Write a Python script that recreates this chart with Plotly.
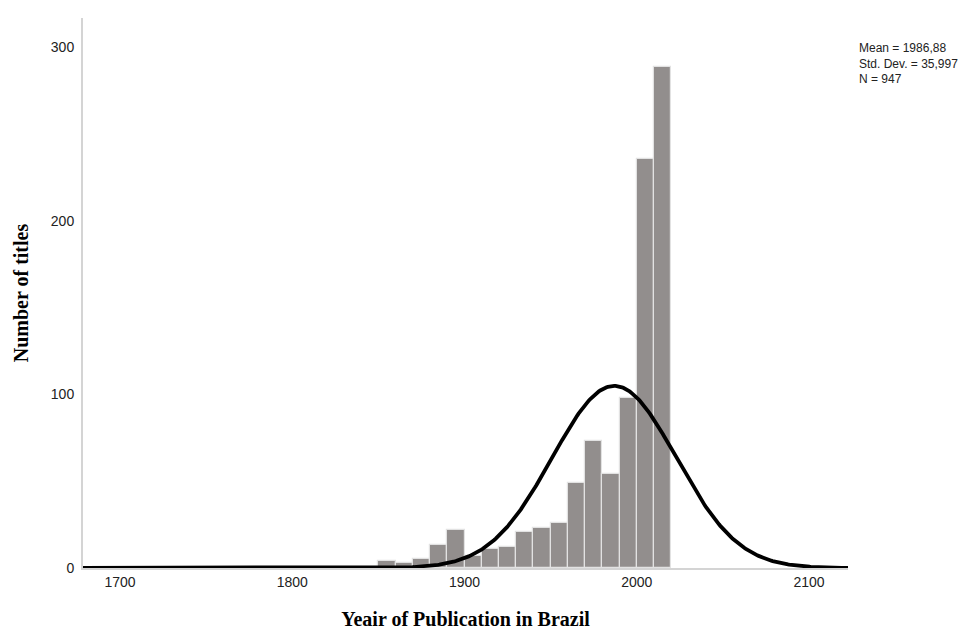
import numpy as np
import plotly.graph_objects as go

# Histogram of publication years, 10-year bins
bin_starts = [1850, 1860, 1870, 1880, 1890, 1900, 1910, 1920, 1930,
              1940, 1950, 1960, 1970, 1980, 1990, 2000, 2010]
counts = [4, 3, 5, 13, 22, 7, 11, 12, 21, 23, 26, 49, 73, 54, 98, 236, 289]
bin_width = 10

# Summary statistics shown beside the plot
mean_year = 1986.88
std_dev = 35.997
n_titles = 947
stat_lines = ["Mean = 1986,88", "Std. Dev. = 35,997", "N = 947"]

x_range = [1678.5, 2122.6]
y_range = [0, 317]
x_ticks = [1700, 1800, 1900, 2000, 2100]
y_ticks = [0, 100, 200, 300]

# Fitted normal curve scaled to the histogram counts
xs = np.linspace(x_range[0], x_range[1], 600)
ys = n_titles * bin_width / (std_dev * np.sqrt(2 * np.pi)) * np.exp(-0.5 * ((xs - mean_year) / std_dev) ** 2)

fig = go.Figure()
fig.add_trace(go.Bar(
    x=bin_starts, y=counts, width=bin_width, offset=0,
    marker=dict(color="#928e8d", line=dict(color="#e2e2e2", width=1.2)),
    hoverinfo="x+y",
))
fig.add_trace(go.Scatter(
    x=xs, y=ys, mode="lines",
    line=dict(color="black", width=3.8),
    hoverinfo="skip",
))

axis_font = dict(family="Liberation Sans, Arial, sans-serif", size=14, color="#222222")
title_font = dict(family="Liberation Serif, Times New Roman, serif", size=20, color="black")

fig.update_layout(
    width=979, height=630,
    margin=dict(l=83, r=131, t=18, b=62),
    paper_bgcolor="white", plot_bgcolor="white",
    showlegend=False, bargap=0,
    xaxis=dict(
        range=x_range, tickvals=x_ticks, ticks="", showgrid=False, zeroline=False,
        showline=True, linecolor="#d4d4d4", linewidth=2,
        tickfont=axis_font,
        title=dict(text="<b>Yeair of Publication in Brazil</b>", font=title_font, standoff=31),
        automargin=False,
    ),
    yaxis=dict(
        range=y_range, tickvals=y_ticks, ticks="", showgrid=False, zeroline=False,
        showline=True, linecolor="#d4d4d4", linewidth=2,
        tickfont=axis_font, ticklabelstandoff=4,
        title=dict(text="<b>Number of titles</b>", font=title_font, standoff=17),
        automargin=False,
    ),
)

# Statistics block to the right of the plot area
fig.add_annotation(
    xref="paper", yref="paper", x=1.013, y=(568 - 64) / 550,
    xanchor="left", yanchor="middle", showarrow=False, align="left",
    text="<br>".join(stat_lines),
    font=dict(family="Liberation Sans, Arial, sans-serif", size=12, color="#222222"),
    borderpad=0,
)

fig.write_html("out.html")
